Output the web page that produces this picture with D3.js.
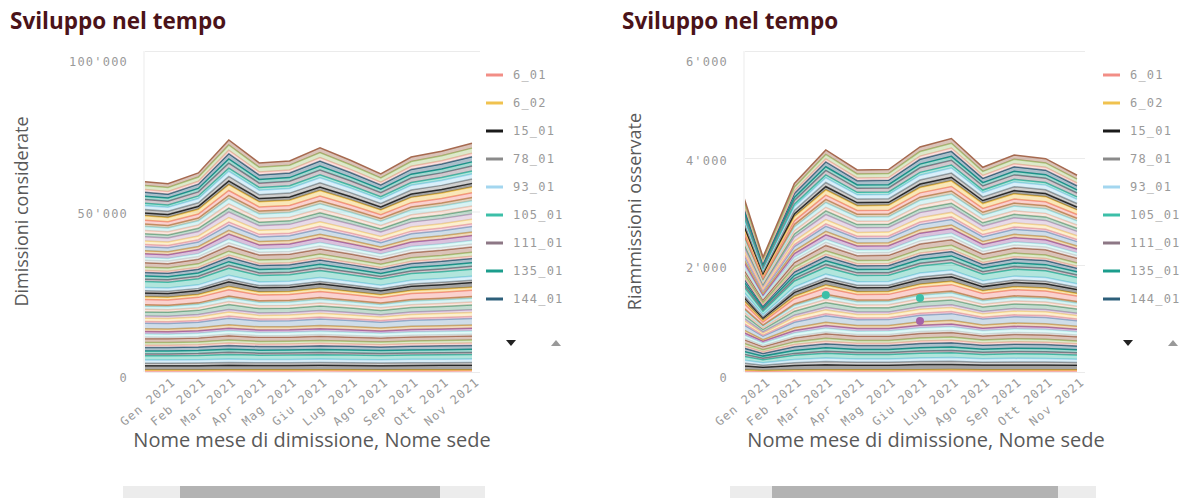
<!DOCTYPE html>
<meta charset="utf-8">
<style>
body { margin: 0; background: #fff; }
.title { font-family: "Open Sans", sans-serif; font-weight: 700; font-size: 22.5px; fill: #4b1319; }
.axis-title { font-family: "Open Sans", sans-serif; font-size: 18px; fill: #595959; }
.x-title { font-size: 20px; }
.tick text, .legend text { font-family: "DejaVu Sans Mono", monospace; font-size: 12px; fill: #9a9a9a; letter-spacing: 1.2px; }
.grid line { stroke: #ebebeb; }
.grid path, .axis path { display: none; }
</style>
<svg width="1189" height="498"></svg>
<script src="https://d3js.org/d3.v7.min.js"></script>
<script>

// months in the data (Dic 2020 lies left of the scrolled window and gets clipped)
var months = ["Dic 2020", "Gen 2021", "Feb 2021", "Mar 2021", "Apr 2021", "Mag 2021",
              "Giu 2021", "Lug 2021", "Ago 2021", "Sep 2021", "Ott 2021", "Nov 2021"];
var tickMonths = months.slice(1);

var sedi = ["6_01", "6_02", "15_01", "78_01", "93_01", "105_01", "111_01", "135_01", "144_01", "151_01",
            "163_01", "178_01", "186_01", "202_01", "215_01", "221_01", "240_01", "252_01", "263_01", "270_01",
            "286_01", "301_01", "312_01", "325_01", "338_01", "347_01", "352_01", "361_01", "379_01", "384_01",
            "398_01", "405_01", "417_01", "426_01", "433_01", "448_01", "459_01", "463_01", "477_01", "489_01",
            "495_01", "502_01", "511_01", "520_01", "534_01", "541_01", "556_01", "563_01", "570_01", "582_01",
            "594_01", "601_01", "615_01", "622_01", "638_01", "647_01", "653_01", "669_01", "674_01", "688_01"];

// Dimissioni considerate, one row per sede, one value per month
var dimissioni = [
  [400, 400, 410, 430, 420, 420, 430, 420, 410, 420, 420, 430],
  [250, 250, 250, 270, 260, 260, 270, 260, 250, 260, 270, 270],
  [1300, 1290, 1320, 1410, 1350, 1350, 1390, 1360, 1320, 1370, 1380, 1400],
  [800, 800, 810, 870, 830, 830, 860, 840, 810, 840, 850, 860],
  [1000, 990, 1020, 1090, 1040, 1040, 1070, 1040, 1020, 1050, 1060, 1080],
  [1300, 1300, 1330, 1400, 1340, 1360, 1380, 1350, 1330, 1360, 1390, 1410],
  [600, 600, 610, 650, 620, 630, 640, 630, 610, 630, 640, 650],
  [900, 890, 920, 980, 930, 940, 960, 940, 910, 950, 960, 970],
  [1100, 1090, 1120, 1190, 1140, 1150, 1180, 1150, 1120, 1160, 1170, 1190],
  [700, 700, 710, 760, 730, 730, 750, 730, 710, 740, 740, 760],
  [850, 850, 860, 920, 880, 890, 910, 890, 860, 890, 900, 920],
  [1200, 1190, 1220, 1300, 1250, 1250, 1280, 1250, 1220, 1260, 1270, 1290],
  [500, 500, 510, 540, 520, 520, 530, 520, 510, 520, 530, 540],
  [950, 940, 970, 1030, 990, 990, 1020, 990, 960, 1000, 1010, 1030],
  [750, 750, 760, 810, 780, 780, 800, 780, 760, 790, 800, 810],
  [900, 890, 930, 1070, 980, 980, 1040, 990, 930, 1000, 1030, 1060],
  [1700, 1680, 1760, 2030, 1840, 1860, 1970, 1870, 1760, 1890, 1940, 2000],
  [550, 540, 570, 660, 600, 600, 640, 600, 570, 610, 630, 650],
  [1050, 1040, 1090, 1250, 1140, 1150, 1210, 1150, 1080, 1170, 1200, 1240],
  [700, 690, 730, 840, 760, 770, 810, 770, 720, 780, 800, 820],
  [1250, 1230, 1300, 1490, 1360, 1370, 1450, 1370, 1290, 1390, 1430, 1470],
  [800, 790, 830, 960, 870, 880, 920, 880, 830, 890, 910, 940],
  [1000, 990, 1040, 1190, 1090, 1090, 1160, 1100, 1030, 1110, 1140, 1180],
  [450, 440, 470, 540, 490, 490, 520, 490, 460, 500, 510, 530],
  [1650, 1630, 1710, 1970, 1790, 1810, 1910, 1810, 1700, 1840, 1880, 1940],
  [850, 840, 880, 1010, 920, 930, 980, 930, 880, 950, 970, 1000],
  [1200, 1180, 1250, 1430, 1300, 1310, 1390, 1320, 1240, 1340, 1370, 1410],
  [650, 640, 670, 780, 710, 710, 750, 710, 670, 720, 740, 770],
  [1050, 1030, 1100, 1260, 1130, 1160, 1220, 1160, 1090, 1160, 1190, 1230],
  [1850, 1830, 1920, 2210, 2010, 2020, 2140, 2030, 1910, 2060, 2110, 2180],
  [750, 740, 780, 900, 810, 820, 870, 820, 770, 830, 860, 880],
  [950, 940, 990, 1130, 1030, 1040, 1100, 1040, 980, 1060, 1080, 1120],
  [1150, 1140, 1190, 1370, 1250, 1260, 1330, 1260, 1190, 1280, 1310, 1350],
  [600, 590, 620, 720, 650, 660, 690, 660, 620, 670, 680, 710],
  [1000, 980, 1050, 1180, 1090, 1100, 1150, 1090, 1040, 1120, 1130, 1190],
  [1400, 1380, 1450, 1670, 1520, 1530, 1620, 1540, 1450, 1560, 1600, 1650],
  [800, 800, 820, 960, 860, 880, 930, 870, 830, 890, 920, 940],
  [850, 830, 900, 1110, 960, 970, 1060, 980, 890, 1000, 1040, 1090],
  [1200, 1170, 1270, 1560, 1360, 1380, 1490, 1380, 1260, 1410, 1460, 1530],
  [900, 880, 950, 1170, 1020, 1030, 1120, 1040, 950, 1060, 1100, 1150],
  [1300, 1270, 1380, 1690, 1470, 1490, 1610, 1500, 1370, 1530, 1580, 1660],
  [700, 690, 740, 910, 790, 800, 870, 810, 740, 820, 850, 890],
  [1100, 1080, 1160, 1430, 1250, 1260, 1370, 1270, 1160, 1290, 1340, 1400],
  [1300, 1280, 1370, 1700, 1460, 1500, 1610, 1490, 1380, 1520, 1590, 1650],
  [950, 930, 1010, 1240, 1080, 1090, 1180, 1100, 1000, 1120, 1160, 1210],
  [1000, 980, 1060, 1300, 1130, 1150, 1240, 1150, 1050, 1180, 1220, 1280],
  [1250, 1220, 1320, 1630, 1420, 1430, 1550, 1440, 1320, 1470, 1520, 1600],
  [800, 780, 850, 1040, 910, 920, 990, 920, 840, 940, 970, 1020],
  [1150, 1130, 1220, 1500, 1300, 1320, 1430, 1330, 1210, 1350, 1400, 1470],
  [1400, 1370, 1480, 1820, 1580, 1600, 1740, 1610, 1470, 1650, 1710, 1790],
  [900, 880, 950, 1170, 1020, 1030, 1120, 1040, 950, 1060, 1100, 1150],
  [1050, 1030, 1110, 1370, 1190, 1200, 1300, 1210, 1100, 1230, 1280, 1340],
  [1250, 1230, 1320, 1620, 1410, 1440, 1550, 1440, 1310, 1470, 1520, 1590],
  [750, 730, 790, 980, 850, 860, 930, 860, 790, 880, 910, 960],
  [1200, 1170, 1270, 1560, 1360, 1380, 1490, 1380, 1260, 1410, 1460, 1530],
  [1000, 980, 1060, 1300, 1130, 1150, 1240, 1150, 1050, 1180, 1220, 1280],
  [1250, 1220, 1330, 1630, 1410, 1430, 1550, 1450, 1310, 1470, 1520, 1600],
  [850, 830, 900, 1110, 960, 970, 1060, 980, 890, 1000, 1040, 1090],
  [1250, 1230, 1320, 1620, 1420, 1430, 1560, 1440, 1320, 1470, 1530, 1590],
  [1200, 1180, 1270, 1560, 1360, 1370, 1490, 1390, 1260, 1410, 1460, 1530]
];

// Riammissioni osservate, same layout
var riammissioni = [
  [25, 17, 23, 26, 24, 24, 26, 27, 24, 25, 25, 24],
  [17, 12, 16, 18, 16, 16, 18, 18, 17, 17, 17, 16],
  [90, 61, 83, 93, 87, 87, 94, 96, 88, 91, 90, 85],
  [55, 37, 51, 57, 53, 53, 57, 59, 54, 56, 55, 52],
  [65, 44, 60, 67, 63, 63, 68, 69, 63, 66, 65, 62],
  [85, 58, 78, 88, 82, 82, 88, 91, 83, 86, 85, 81],
  [40, 27, 37, 41, 39, 39, 42, 43, 39, 41, 40, 38],
  [60, 41, 55, 62, 58, 58, 62, 64, 58, 61, 60, 57],
  [75, 51, 69, 77, 72, 72, 78, 80, 73, 76, 75, 71],
  [45, 31, 41, 46, 43, 43, 47, 48, 44, 46, 45, 43],
  [55, 38, 50, 56, 53, 54, 57, 58, 53, 56, 56, 52],
  [80, 54, 74, 82, 77, 77, 83, 86, 78, 81, 80, 76],
  [35, 24, 32, 36, 34, 34, 36, 37, 34, 35, 35, 33],
  [65, 45, 59, 67, 62, 63, 67, 70, 63, 66, 65, 61],
  [50, 34, 46, 52, 48, 48, 52, 53, 49, 51, 50, 47],
  [60, 32, 53, 63, 57, 57, 63, 66, 58, 61, 60, 56],
  [115, 62, 102, 120, 109, 109, 122, 126, 111, 117, 116, 106],
  [35, 19, 31, 37, 33, 33, 37, 38, 34, 36, 35, 32],
  [70, 38, 62, 73, 67, 67, 74, 77, 67, 71, 70, 65],
  [45, 24, 40, 47, 43, 43, 48, 49, 43, 46, 45, 42],
  [85, 46, 75, 89, 81, 81, 90, 93, 82, 87, 85, 79],
  [55, 30, 49, 57, 52, 52, 58, 60, 53, 56, 55, 51],
  [65, 35, 58, 68, 62, 62, 69, 71, 63, 66, 65, 60],
  [30, 16, 27, 31, 29, 29, 32, 33, 29, 31, 30, 28],
  [110, 59, 98, 115, 105, 105, 116, 121, 106, 112, 111, 102],
  [55, 30, 48, 58, 52, 53, 58, 61, 53, 56, 55, 50],
  [80, 43, 71, 83, 76, 76, 85, 88, 77, 82, 80, 74],
  [45, 24, 40, 47, 43, 43, 48, 49, 43, 46, 45, 42],
  [70, 38, 62, 73, 66, 67, 74, 76, 68, 71, 71, 65],
  [125, 68, 111, 130, 119, 119, 132, 137, 120, 128, 126, 116],
  [50, 27, 44, 52, 48, 48, 53, 55, 48, 51, 50, 46],
  [65, 35, 58, 68, 62, 62, 69, 71, 63, 66, 65, 60],
  [75, 41, 67, 78, 71, 71, 79, 82, 72, 77, 75, 69],
  [40, 22, 35, 42, 38, 38, 42, 44, 38, 41, 40, 37],
  [65, 35, 57, 68, 61, 62, 68, 72, 62, 67, 66, 60],
  [95, 51, 84, 99, 90, 90, 101, 104, 91, 97, 95, 88],
  [55, 30, 49, 57, 52, 52, 58, 60, 53, 56, 55, 51],
  [55, 26, 48, 58, 52, 52, 59, 61, 53, 56, 55, 50],
  [80, 37, 70, 84, 75, 76, 85, 89, 76, 82, 80, 73],
  [60, 28, 52, 63, 57, 57, 64, 67, 57, 61, 60, 55],
  [90, 42, 78, 95, 85, 85, 96, 100, 86, 92, 91, 82],
  [45, 21, 39, 47, 42, 42, 48, 50, 43, 46, 45, 41],
  [75, 35, 65, 79, 71, 71, 80, 84, 72, 77, 75, 68],
  [90, 42, 78, 94, 85, 85, 96, 100, 86, 92, 90, 82],
  [65, 30, 56, 68, 61, 61, 69, 72, 62, 66, 65, 59],
  [65, 31, 57, 68, 62, 61, 70, 73, 62, 67, 66, 60],
  [85, 40, 74, 89, 80, 80, 91, 95, 81, 87, 86, 78],
  [55, 26, 48, 58, 52, 52, 59, 61, 53, 56, 55, 50],
  [75, 35, 65, 79, 71, 71, 80, 84, 72, 77, 75, 68],
  [95, 44, 83, 100, 89, 90, 101, 106, 91, 97, 96, 87],
  [60, 28, 52, 63, 57, 57, 64, 67, 57, 61, 60, 55],
  [70, 33, 61, 74, 66, 66, 75, 78, 67, 72, 70, 64],
  [85, 40, 74, 89, 80, 80, 91, 95, 81, 87, 86, 78],
  [50, 23, 43, 53, 47, 47, 53, 56, 48, 51, 50, 46],
  [80, 37, 70, 84, 75, 76, 85, 89, 76, 82, 80, 73],
  [65, 30, 56, 68, 61, 61, 69, 72, 62, 66, 65, 59],
  [85, 39, 74, 90, 80, 80, 90, 94, 81, 87, 85, 77],
  [55, 26, 48, 58, 52, 52, 59, 61, 53, 56, 55, 50],
  [80, 38, 69, 84, 76, 75, 86, 89, 77, 82, 80, 73],
  [80, 37, 70, 84, 75, 76, 85, 89, 76, 82, 80, 73]
];

// isolated points shown as dots in the riammissioni chart (stacked level)
var puntiSede = ["105_01", "105_01", "215_01"];
var puntiMese = ["Mar 2021", "Giu 2021", "Giu 2021"];
var puntiValore = [1440, 1385, 955];

var palette = ["#f28e86", "#f0c24f", "#1a1a1a", "#8a8a8a", "#a3d6ef", "#3cbfa8",
               "#8d7785", "#1b9d8c", "#2d5f7a", "#f5b5ae", "#a9c77c", "#a66a50",
               "#d2d2d2", "#b5efed", "#a563a8", "#d6a65a", "#87a9c9", "#e6a1b5",
               "#f7d98c", "#c4a2c6", "#6aa888", "#f2c2b0", "#9fe0e4", "#b88c5a"];

var svg = d3.select("svg");
var color = d3.scaleOrdinal().domain(sedi).range(palette);
var fmt = d3.formatLocale({ decimal: ".", thousands: "'", grouping: [3], currency: ["", ""] }).format(",");

function drawChart(c) {
  var g = svg.append("g");

  var step = (c.nov - c.gen) / 10;
  var x = d3.scalePoint().domain(months).range([c.gen - step, c.nov]);
  var y = d3.scaleLinear().domain([0, c.max]).range([c.bottom, c.top]);

  var table = months.map(function(m, i) {
    var row = { mese: m };
    sedi.forEach(function(s, j) { row[s] = c.data[j][i]; });
    return row;
  });
  var series = d3.stack().keys(sedi)(table);

  g.append("text").attr("class", "title")
      .attr("x", c.titleX).attr("y", 29).text("Sviluppo nel tempo");

  // grid
  g.append("g").attr("class", "grid")
      .attr("transform", "translate(" + c.left + ",0)")
      .call(d3.axisLeft(y).tickValues(c.ticks).tickSize(-(c.nov - c.left + 8)).tickFormat(""));
  g.append("line")
      .attr("x1", c.left - 1).attr("x2", c.left - 1)
      .attr("y1", c.top).attr("y2", c.bottom)
      .attr("stroke", "#ebebeb");

  var clipId = "clip" + c.titleX;
  g.append("clipPath").attr("id", clipId)
    .append("rect")
      .attr("x", c.left).attr("y", 0)
      .attr("width", c.nov - c.left + 1).attr("height", c.bottom + 1);

  var area = d3.area()
      .x(function(d) { return x(d.data.mese); })
      .y0(function(d) { return y(d[0]); })
      .y1(function(d) { return y(d[1]); });
  var line = d3.line()
      .x(function(d) { return x(d.data.mese); })
      .y(function(d) { return y(d[1]); });

  var plot = g.append("g").attr("clip-path", "url(#" + clipId + ")");
  var layer = plot.selectAll("g.layer")
    .data(series)
    .enter().append("g").attr("class", "layer");
  layer.append("path")
      .attr("d", area)
      .attr("fill", function(d) { return color(d.key); })
      .attr("fill-opacity", 0.4);
  layer.append("path")
      .attr("d", line)
      .attr("fill", "none")
      .attr("stroke", function(d) { return color(d.key); })
      .attr("stroke-width", 1.5);

  if (c.punti) {
    plot.selectAll("circle")
      .data(c.punti.sede)
      .enter().append("circle")
        .attr("cx", function(d, i) { return x(c.punti.mese[i]); })
        .attr("cy", function(d, i) { return y(c.punti.valore[i]); })
        .attr("r", 4)
        .attr("fill", function(d) { return color(d); });
  }

  // y axis labels
  var yAxis = g.append("g").attr("class", "axis")
      .attr("transform", "translate(" + (c.left - 17) + ",0)")
      .call(d3.axisLeft(y).tickValues(c.ticks).tickSize(0).tickPadding(0).tickFormat(fmt));
  yAxis.selectAll(".tick text")
      .attr("dy", function(d) { return d === c.max ? "1.2em" : (d === 0 ? "0.75em" : "0.5em"); });

  // x axis labels
  var xAxis = g.append("g").attr("class", "axis")
      .attr("transform", "translate(0," + c.bottom + ")")
      .call(d3.axisBottom(x).tickValues(tickMonths).tickSize(0));
  xAxis.selectAll(".tick text")
      .attr("x", 0).attr("y", 0).attr("dy", "0.35em")
      .attr("text-anchor", "end")
      .attr("transform", "translate(5,8) rotate(-40)");

  g.append("text").attr("class", "axis-title")
      .attr("transform", "translate(" + c.yTitleX + "," + ((c.top + c.bottom) / 2) + ") rotate(-90)")
      .attr("text-anchor", "middle").attr("dy", "0.35em")
      .text(c.yTitle);
  g.append("text").attr("class", "axis-title x-title")
      .attr("x", c.xTitleX).attr("y", 447)
      .attr("text-anchor", "middle")
      .text("Nome mese di dimissione, Nome sede");

  // legend (first page)
  var leg = g.append("g").attr("class", "legend")
    .selectAll("g")
    .data(sedi.slice(0, 9))
    .enter().append("g")
      .attr("transform", function(d, i) { return "translate(" + c.legendX + "," + (75 + i * 28) + ")"; });
  leg.append("line")
      .attr("x1", 0).attr("x2", 17)
      .attr("stroke", function(d) { return color(d); })
      .attr("stroke-width", 3);
  leg.append("text")
      .attr("x", 27).attr("dy", "0.35em")
      .text(function(d) { return d; });

  var arrows = g.append("g").attr("transform", "translate(" + c.legendX + ",343)");
  arrows.append("path").attr("d", "M20,-3 L30,-3 L25,3 Z").attr("fill", "#222");
  arrows.append("path").attr("d", "M65,3 L75,3 L70,-3 Z").attr("fill", "#999");

  // scrollbar
  g.append("rect")
      .attr("x", c.scroll[0]).attr("y", 486)
      .attr("width", c.scroll[3] - c.scroll[0]).attr("height", 14)
      .attr("fill", "#ececec");
  g.append("rect")
      .attr("x", c.scroll[1]).attr("y", 486)
      .attr("width", c.scroll[2] - c.scroll[1]).attr("height", 14)
      .attr("fill", "#b3b3b3");
}

drawChart({
  data: dimissioni, max: 100000, ticks: [0, 50000, 100000],
  left: 145, gen: 168, nov: 472, top: 51, bottom: 372,
  titleX: 10, yTitle: "Dimissioni considerate", yTitleX: 22, xTitleX: 312,
  legendX: 486, scroll: [123, 180, 440, 485]
});

drawChart({
  data: riammissioni, max: 6000, ticks: [0, 2000, 4000, 6000],
  left: 745, gen: 763, nov: 1077, top: 51, bottom: 372,
  titleX: 622, yTitle: "Riammissioni osservate", yTitleX: 635, xTitleX: 926,
  legendX: 1103, scroll: [730, 772, 1058, 1096],
  punti: { sede: puntiSede, mese: puntiMese, valore: puntiValore }
});

</script>
